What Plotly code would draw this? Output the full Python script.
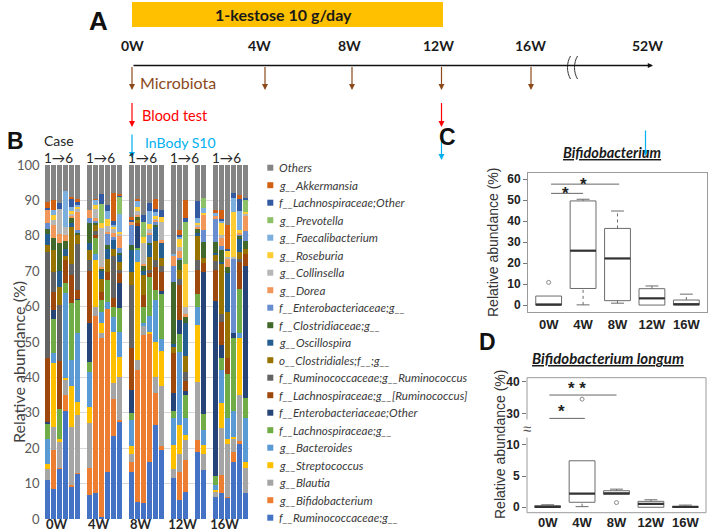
import plotly.graph_objects as go

W, H = 708, 531


def px(x):
    return x / W


def py(y):
    return 1 - y / H


# ---------------- data ----------------
timepoints = ['0W', '4W', '8W', '12W', '16W']
timeline_labels = ['0W', '4W', '8W', '12W', '16W', '52W']
cases = [1, 2, 3, 4, 5, 6]

taxa = ['f__Ruminococcaceae;g__', 'g__Bifidobacterium', 'g__Blautia', 'g__Streptococcus',
        'g__Bacteroides', 'f__Lachnospiraceae;g__', 'f__Enterobacteriaceae;Other',
        'f__Lachnospiraceae;g__[Ruminococcus]', 'f__Ruminococcaceae;g__Ruminococcus',
        'o__Clostridiales;f__;g__', 'g__Oscillospira', 'f__Clostridiaceae;g__',
        'f__Enterobacteriaceae;g__', 'g__Dorea', 'g__Collinsella', 'g__Roseburia',
        'g__Faecalibacterium', 'g__Prevotella', 'f__Lachnospiraceae;Other',
        'g__Akkermansia', 'Others']
colors = ['#4472C4', '#ED7D31', '#A5A5A5', '#FFC000', '#5B9BD5', '#70AD47', '#264478',
          '#9E480E', '#636363', '#997300', '#255E91', '#43682B', '#698ED0', '#F1975A',
          '#B7B7B7', '#FFCD33', '#7CAFDD', '#8CC168', '#335AA1', '#D26012', '#848484']

# relative abundance (%) per taxon, 6 cases x 5 timepoints (0W,4W,8W,12W,16W); 12W case 4 missing
rumino_g = [11, 8.5, 14.2, 30.5, 9.3, 12.9, 6.7, 7.3, 0.5, 13.4, 23.4, 27.5, 13.4, 4.8, 4.4, 16.2, 26.6, 19.5,
            11.6, 5.4, 7.6, None, 19, 13.8, 6.3, 7.3, 6, 16.2, 21.4, 7.3]
bifido = [0, 11, 0.3, 4.5, 0.3, 0.2, 7.6, 50, 50.5, 46, 10.4, 0.5, 2.8, 37.2, 47.6, 36.2, 8.9, 1,
          0, 8, 9, None, 3.3, 0, 0, 5.1, 0.3, 2.8, 0.5, 0]
blautia = [3, 6.5, 7.5, 4.3, 16.4, 16.3, 12.7, 2.7, 1.5, 0, 4.5, 12.2, 2.3, 3, 2.8, 0, 4.7, 17,
           2.4, 5.1, 5.8, None, 16.5, 4.7, 1.2, 13.2, 15, 3.6, 13.1, 7]
strepto = [1.5, 18, 0.5, 0.5, 11.5, 3.6, 4.7, 13.2, 2.8, 0, 14.6, 5.7, 2.1, 27.5, 0, 0.5, 9.9, 10,
           7, 8.1, 1.2, None, 16, 2.4, 0.8, 7.1, 1.2, 0.5, 16, 1.9]
bactero = [7, 2.8, 0, 24, 7.5, 19.5, 9.9, 1.8, 3.3, 2, 4.3, 7, 7.4, 3.5, 0.5, 4.5, 11.8, 3.3,
           7.5, 20.7, 5, None, 5.2, 4.2, 1.3, 9.4, 6, 7.5, 1.5, 12.2]
lachno_g = [4.5, 9.6, 8.5, 3, 16, 9.4, 2.8, 4.3, 3.3, 6, 2.8, 6.6, 2, 0.5, 4.7, 11, 2.8, 13,
            2, 5.1, 6.5, None, 3.7, 4.7, 2.6, 3.3, 12.6, 20.5, 12.5, 5.7]
entero_other = [0.5, 2.5, 0, 0, 0, 0.3, 10.9, 0, 0, 0, 0, 7.1, 6.4, 6.5, 0, 0, 0, 0.5,
                5, 3.8, 1, None, 0, 40.1, 49.5, 3.8, 0, 1.5, 0, 37.5]
lachno_rumino = [18, 5.3, 13.5, 6.5, 8, 2.5, 14.7, 1, 2.3, 2.5, 2.3, 2.8, 11.8, 0.5, 3.3, 1, 6.6, 5.6,
                 11.5, 9.8, 3, None, 6.6, 2.3, 8.5, 6.5, 4.5, 0, 7.5, 3.3]
rumino_rumino = [30, 5.7, 16, 0, 3, 13, 3.2, 1, 0, 0, 12, 1, 17.8, 0, 0, 1, 2, 1.5,
                 0, 1.9, 2.4, None, 2.9, 0, 2.8, 2.3, 0, 0, 1, 0]
clostridiales = [2, 6.1, 5, 1, 10.6, 2.8, 2.8, 2, 3.5, 3.5, 2, 2.3, 3.9, 1, 5.7, 3.5, 5.2, 2.3,
                 1.5, 2.4, 4.5, None, 7, 1.4, 1.7, 14.2, 13, 0, 2, 1.4]
oscillo = [3, 0, 4.5, 2, 1, 0, 2, 0, 2.5, 3, 2.5, 1.9, 6.1, 0, 1, 3.5, 4, 4.2,
           1, 0, 9.5, None, 0.5, 0, 0.5, 0.5, 11, 0, 3.5, 0]
clostridiaceae = [1.5, 3.3, 8, 2.3, 1.5, 0.5, 5.5, 0.5, 0.5, 1, 0, 0.5, 1.4, 1, 1.5, 0.5, 0.5, 0,
                  17.5, 2.9, 1.5, None, 1.4, 4.7, 3, 3.3, 1.5, 0, 1, 2.3]
entero_g = [1.5, 0, 0, 0, 0, 0.5, 1.4, 0.5, 0, 3.3, 1, 1.5, 5.6, 0, 0, 2.5, 1, 0,
            4.5, 0.5, 0, None, 0, 3.3, 6.5, 1, 0, 21, 0.5, 2.8]
dorea = [4, 3.7, 2.5, 1.5, 0.5, 5.2, 2.4, 0.7, 0.5, 0.5, 1, 3.6, 0.9, 0.5, 0.5, 0.5, 0.5, 1,
         2.8, 2, 0.8, None, 0.5, 4.3, 1, 2.3, 2.5, 0, 0.5, 4.3]
collinsella = [0, 1.5, 7.2, 2.5, 0.5, 0.8, 0, 2.5, 10.9, 1.5, 1.2, 0.5, 0, 1, 6, 1, 0.5, 5,
               0, 1, 2.2, None, 0.5, 0, 0, 1, 0.5, 0.5, 0, 0.5]
roseburia = [0, 1.5, 0, 0, 1, 0.8, 0, 1.2, 1.5, 2, 0.5, 0.5, 0, 1, 1.8, 1.5, 0.5, 1.5,
             0, 2.6, 12, None, 0.5, 0.5, 0, 3.5, 1.5, 12.5, 0.5, 0.5]
faecali = [0, 1.3, 0, 10, 1, 0.5, 0, 1.5, 0, 2.3, 0.5, 5, 0, 2, 0, 3.5, 1.5, 0,
           0.7, 0.5, 0, None, 1.5, 1.5, 1, 0.5, 0, 4, 5.5, 0]
prevotella = [0, 0, 0, 0, 0, 0, 0, 0, 5.5, 0, 0, 4.8, 0, 0, 4, 0, 0, 0,
              0, 0, 12, None, 0, 2.8, 0, 0, 0, 0, 0, 3.3]
lachno_other = [0.3, 0, 1.5, 0, 2.5, 0.8, 0, 0, 2.7, 1.8, 1.2, 0.5, 0.7, 0, 2, 2.3, 0.5, 2,
                0, 0.5, 1, None, 4.7, 0, 0, 0.5, 0.8, 1.5, 3.5, 0.6]
akkermansia = [1.7, 2.7, 0, 0, 0.5, 0.7, 0, 0.3, 0, 0, 7.8, 0.4, 0.6, 0.5, 0, 0, 2.8, 0,
               0, 1.2, 5, None, 0, 0, 0.5, 2.5, 6.6, 0, 1, 0]
others = [10.5, 10, 10.8, 7.4, 8.9, 9.7, 12.7, 9.5, 8.2, 11.2, 8, 8, 14.8, 9.5, 14.2, 10.8, 9.7, 12.6,
          25, 18.5, 10, None, 10.2, 9.3, 12.8, 12.7, 17, 7.9, 9, 9.4]

abundance = [rumino_g, bifido, blautia, strepto, bactero, lachno_g, entero_other, lachno_rumino,
             rumino_rumino, clostridiales, oscillo, clostridiaceae, entero_g, dorea, collinsella,
             roseburia, faecali, prevotella, lachno_other, akkermansia, others]

# Panel C: Bifidobacterium box statistics (%)
bif_q1 = [0, 7.9, 2.1, 0, 0]
bif_med = [0.2, 25.9, 22.2, 3.2, 0.4]
bif_q3 = [4.3, 49.6, 36.5, 7.8, 2.4]
bif_lo = [0, 0.1, 0.9, 0, 0]
bif_hi = [4.3, 50.4, 44.8, 9.1, 5.2]
bif_out_x = ['0W']
bif_out_y = [10.8]

# Panel D: Bifidobacterium longum box statistics (%)
lon_q1 = [0.0, 0.8, 2.05, 0.0, 0.0]
lon_med = [0.05, 2.2, 2.25, 0.55, 0.05]
lon_q3 = [0.25, 7.45, 2.65, 0.95, 0.12]
lon_lo = [0.0, 0.1, 2.05, 0.0, 0.0]
lon_hi = [0.4, 7.45, 2.9, 1.2, 0.35]
lon_out_x = ['4W', '8W']
lon_out_y = [34.5, 0.75]

# ---------------- figure ----------------
fig = go.Figure()

# Panel B stacked bars
GROUP = 7
xpos = [g * GROUP + c for g in range(len(timepoints)) for c in range(len(cases))]
for name, col, vals in zip(taxa, colors, abundance):
    fig.add_trace(go.Bar(x=xpos, y=vals, name=name, width=0.82,
                         marker=dict(color=col, line=dict(width=0)),
                         showlegend=False, xaxis='x', yaxis='y', hoverinfo='name+y'))

# Box helpers
BOXW = 0.75
pos = {t: i + 1 for i, t in enumerate(timepoints)}
P = [pos[t] for t in timepoints]
BOXLINE = '#6b6b6b'


def add_box(q1, med, q3, lo, hi, xa, ya):
    fig.add_trace(go.Box(x=P, q1=q1, median=med, q3=q3, lowerfence=q1, upperfence=q3,
                         width=BOXW, whiskerwidth=0, fillcolor='white', boxpoints=False,
                         line=dict(color=BOXLINE, width=1), showlegend=False,
                         xaxis=xa, yaxis=ya, hoverinfo='skip'))
    wx, wy, cx, cy, mx, my = [], [], [], [], [], []
    for p, a, b, c, d, m in zip(P, lo, q1, q3, hi, med):
        if a < b:
            wx += [p, p, None]; wy += [a, b, None]
            cx += [p - BOXW / 4, p + BOXW / 4, None]; cy += [a, a, None]
        if d > c:
            wx += [p, p, None]; wy += [c, d, None]
            cx += [p - BOXW / 4, p + BOXW / 4, None]; cy += [d, d, None]
        mx += [p - BOXW / 2, p + BOXW / 2, None]; my += [m, m, None]
    fig.add_trace(go.Scatter(x=wx, y=wy, mode='lines', line=dict(color=BOXLINE, width=1, dash='dot'),
                             showlegend=False, xaxis=xa, yaxis=ya, hoverinfo='skip'))
    fig.add_trace(go.Scatter(x=cx, y=cy, mode='lines', line=dict(color=BOXLINE, width=1),
                             showlegend=False, xaxis=xa, yaxis=ya, hoverinfo='skip'))
    fig.add_trace(go.Scatter(x=mx, y=my, mode='lines', line=dict(color='#333333', width=2.2),
                             showlegend=False, xaxis=xa, yaxis=ya, hoverinfo='skip'))


OUTMK = dict(symbol='circle-open', size=4, color='#8a8a8a', line=dict(width=1))
add_box(bif_q1, bif_med, bif_q3, bif_lo, bif_hi, 'x2', 'y2')
fig.add_trace(go.Scatter(x=[pos[t] for t in bif_out_x], y=bif_out_y, mode='markers', marker=OUTMK,
                         showlegend=False, xaxis='x2', yaxis='y2', hoverinfo='y'))

add_box(lon_q1, lon_med, lon_q3, lon_lo, lon_hi, 'x3', 'y3')
lo_x = [pos[t] for t, v in zip(lon_out_x, lon_out_y) if v <= 12]
lo_y = [v for v in lon_out_y if v <= 12]
hi_x = [pos[t] for t, v in zip(lon_out_x, lon_out_y) if v > 12]
hi_y = [v for v in lon_out_y if v > 12]
fig.add_trace(go.Scatter(x=lo_x, y=lo_y, mode='markers', marker=OUTMK,
                         showlegend=False, xaxis='x3', yaxis='y3', hoverinfo='y'))
fig.add_trace(go.Scatter(x=hi_x, y=hi_y, mode='markers', marker=OUTMK,
                         showlegend=False, xaxis='x3', yaxis='y4', hoverinfo='y'))

LAT = 'Lato, Carlito, Arial, sans-serif'
ARI = 'Liberation Sans, Arial, sans-serif'
frame = '#9a9a9a'

fig.update_layout(
    width=W, height=H, margin=dict(l=0, r=0, t=0, b=0, autoexpand=False),
    paper_bgcolor='white', plot_bgcolor='white', barmode='stack', showlegend=False,
    font=dict(family=LAT, color='#262626'),
    xaxis=dict(domain=[px(44.5), px(248.5)], range=[-0.5, 33.5], anchor='y', automargin=False,
               tickvals=[g * GROUP + 1.5 for g in range(5)],
               ticktext=['<b>%s</b>' % t for t in timepoints],
               tickfont=dict(family=LAT, size=13, color='#262626'),
               showgrid=False, zeroline=False, showline=False, ticks='', ticklabelstandoff=-4),
    yaxis=dict(domain=[py(519), py(165)], range=[0, 100], anchor='x', automargin=False,
               tickvals=list(range(0, 101, 10)), showgrid=True, gridcolor='#D9D9D9',
               zeroline=False, showline=False, ticks='',
               tickfont=dict(family=LAT, size=13, color='#595959'), ticklabelstandoff=4),
    xaxis2=dict(domain=[px(528), px(707)], range=[0.4, 5.6], anchor='y2', automargin=False,
                tickvals=P, ticktext=['<b>%s</b>' % t for t in timepoints],
                tickfont=dict(family=ARI, size=13, color='#222222'),
                showline=True, mirror=True, linecolor=frame, linewidth=1,
                showgrid=False, zeroline=False, ticks=''),
    yaxis2=dict(domain=[py(312), py(173)], range=[-3.3, 62.9], anchor='x2', automargin=False,
                tickvals=list(range(0, 61, 10)), ticktext=['<b>%d</b>' % v for v in range(0, 61, 10)],
                tickfont=dict(family=ARI, size=12, color='#222222'),
                showline=True, mirror=True, linecolor=frame, linewidth=1,
                ticks='outside', ticklen=4, tickcolor='#777777',
                showgrid=False, zeroline=False),
    xaxis3=dict(domain=[px(527), px(706)], range=[0.4, 5.6], anchor='y3', automargin=False,
                tickvals=P, ticktext=['<b>%s</b>' % t for t in timepoints],
                tickfont=dict(family=ARI, size=13, color='#222222'),
                showline=False, showgrid=False, zeroline=False, ticks=''),
    yaxis3=dict(domain=[py(512.7), py(428)], range=[-0.87, 12.7], anchor='x3', automargin=False,
                tickvals=[0, 5, 10], ticktext=['<b>0</b>', '<b>5</b>', '<b>10</b>'],
                tickfont=dict(family=ARI, size=12, color='#222222'),
                ticks='outside', ticklen=4, tickcolor='#777777',
                showline=False, showgrid=False, zeroline=False),
    yaxis4=dict(domain=[py(428), py(377.7)], range=[25.35, 41.3], anchor='x3', automargin=False,
                tickvals=[30, 40], ticktext=['<b>30</b>', '<b>40</b>'],
                tickfont=dict(family=ARI, size=12, color='#222222'),
                ticks='outside', ticklen=4, tickcolor='#777777',
                showline=False, showgrid=False, zeroline=False),
)

shapes = []
ann = []


def text(x, y, s, size, color='#262626', family=LAT, xanchor='center', angle=0, bg=None):
    d = dict(x=px(x), y=py(y), xref='paper', yref='paper', text=s, showarrow=False,
             font=dict(family=family, size=size, color=color), xanchor=xanchor, yanchor='middle',
             textangle=angle, borderpad=0)
    if bg:
        d['bgcolor'] = bg
    ann.append(d)


def arrow(x, y0, y1, color, w=1.2):
    ann.append(dict(x=px(x), y=py(y1), xref='paper', yref='paper', ax=0, ay=-(y1 - y0),
                    axref='pixel', ayref='pixel', showarrow=True, arrowhead=2, arrowsize=1,
                    arrowwidth=w, arrowcolor=color, text=''))


# ---------- Panel A ----------
shapes.append(dict(type='rect', xref='paper', yref='paper', x0=px(132), x1=px(443), y0=py(27), y1=py(2),
                   fillcolor='#FFC000', line=dict(width=0), layer='below'))
text(98, 21, '<b>A</b>', 26, '#111111', ARI)
text(283, 14, '<b>1-kestose 10 g/day</b>', 16, '#1a1a1a')
tl_x = [132, 259, 349, 438, 530, 647]
for lab, x in zip(timeline_labels, tl_x):
    text(x, 45, '<b>%s</b>' % lab, 14, '#1a1a1a')
ann.append(dict(x=px(653), y=py(65.5), xref='paper', yref='paper', ax=-(653 - 132), ay=0,
                axref='pixel', ayref='pixel', showarrow=True, arrowhead=2, arrowsize=0.8,
                arrowwidth=1.3, arrowcolor='#111111', text=''))
shapes.append(dict(type='rect', xref='paper', yref='paper', x0=px(569.5), x1=px(576.5), y0=py(70), y1=py(61),
                   fillcolor='white', line=dict(width=0)))
for bx in [569.5, 576.5]:
    shapes.append(dict(type='path', xref='paper', yref='paper',
                       path='M %f %f C %f %f %f %f %f %f' % (px(bx + 1), py(56), px(bx - 3), py(63),
                                                              px(bx - 3), py(72), px(bx + 1), py(79)),
                       line=dict(color='#333333', width=1)))
brown = '#8C4A1C'
for x in [132, 265, 352, 441.5, 531]:
    arrow(x, 65.5, 90, brown)
text(139, 83, 'Microbiota', 16, brown, xanchor='left')
for x in [132, 441.5]:
    arrow(x, 101.5, 127, '#FF0000')
text(141, 115.5, 'Blood test', 14.5, '#FF0000', xanchor='left')
for x, y0, y1 in [(132, 133, 158), (441.5, 134, 160), (645.5, 129, 156)]:
    arrow(x, y0, y1, '#00B0F0')
text(143.5, 142.5, 'InBody S10', 14, '#00B0F0', xanchor='left')

# ---------- Panel B ----------
text(15.5, 141, '<b>B</b>', 23, '#111111', ARI)
text(43, 140.5, 'Case', 14, '#262626', xanchor='left')
for x in [43, 84.5, 127, 168.5, 210.5]:
    text(x, 158, '1\u21926', 13.5, '#262626', xanchor='left')
text(18, 362, 'Relative abundance (%)', 16, '#404040', angle=-90)

# legend (top entry = last stacked taxon)
for i, (name, col) in enumerate(zip(taxa[::-1], colors[::-1])):
    y = 167.7 + i * 17.5
    shapes.append(dict(type='rect', xref='paper', yref='paper', x0=px(267.3), x1=px(273.3),
                       y0=py(y + 3), y1=py(y - 3), fillcolor=col, line=dict(width=0)))
    text(278, y, '<i>%s</i>' % name, 11.6, '#3a3a3a', xanchor='left')

# ---------- Panel C ----------
text(447, 137, '<b>C</b>', 23, '#111111', ARI)
text(611.5, 152.5, '<b><i><u>Bifidobacterium</u></i></b>', 14.5, '#1a1a1a')
text(493, 243, 'Relative abundance (%)', 14, '#333333', ARI, angle=-90)
for x0, x1, y in [(1.07, 2.0, 53.2), (1.07, 3.05, 57.6)]:
    shapes.append(dict(type='line', xref='x2', yref='y2', x0=x0, x1=x1, y0=y, y1=y,
                       line=dict(color='#666666', width=1)))
ann.append(dict(x=1.5, y=53.2, xref='x2', yref='y2', text='<b>*</b>', showarrow=False,
                font=dict(family=ARI, size=17, color='#222222')))
ann.append(dict(x=2.0, y=57.4, xref='x2', yref='y2', text='<b>*</b>', showarrow=False,
                font=dict(family=ARI, size=17, color='#222222')))

# ---------- Panel D ----------
text(487.5, 342, '<b>D</b>', 23, '#111111', ARI)
text(607.5, 358, '<b><i><u>Bifidobacterium longum</u></i></b>', 15, '#1a1a1a')
text(500, 445, 'Relative abundance (%)', 14, '#333333', ARI, angle=-90)
shapes.append(dict(type='rect', xref='paper', yref='paper', x0=px(527), x1=px(706), y0=py(512.7), y1=py(377.7),
                   line=dict(color=frame, width=1), fillcolor='rgba(0,0,0,0)'))
text(527, 428, '\u2248', 15, '#555555', ARI, bg='white')
for x0, x1, y in [(1.05, 2.08, 28.4), (1.05, 3.0, 35.8)]:
    shapes.append(dict(type='line', xref='x3', yref='y4', x0=x0, x1=x1, y0=y, y1=y,
                       line=dict(color='#666666', width=1)))
ann.append(dict(x=1.4, y=30.6, xref='x3', yref='y4', text='<b>*</b>', showarrow=False,
                font=dict(family=ARI, size=17, color='#222222')))
ann.append(dict(x=1.85, y=37.8, xref='x3', yref='y4', text='<b>* *</b>', showarrow=False,
                font=dict(family=ARI, size=17, color='#222222')))

fig.update_layout(shapes=shapes, annotations=ann)
fig.write_html('out.html', config={'displayModeBar': False},
               post_script="document.body.style.margin='0';document.body.style.overflow='hidden';")
